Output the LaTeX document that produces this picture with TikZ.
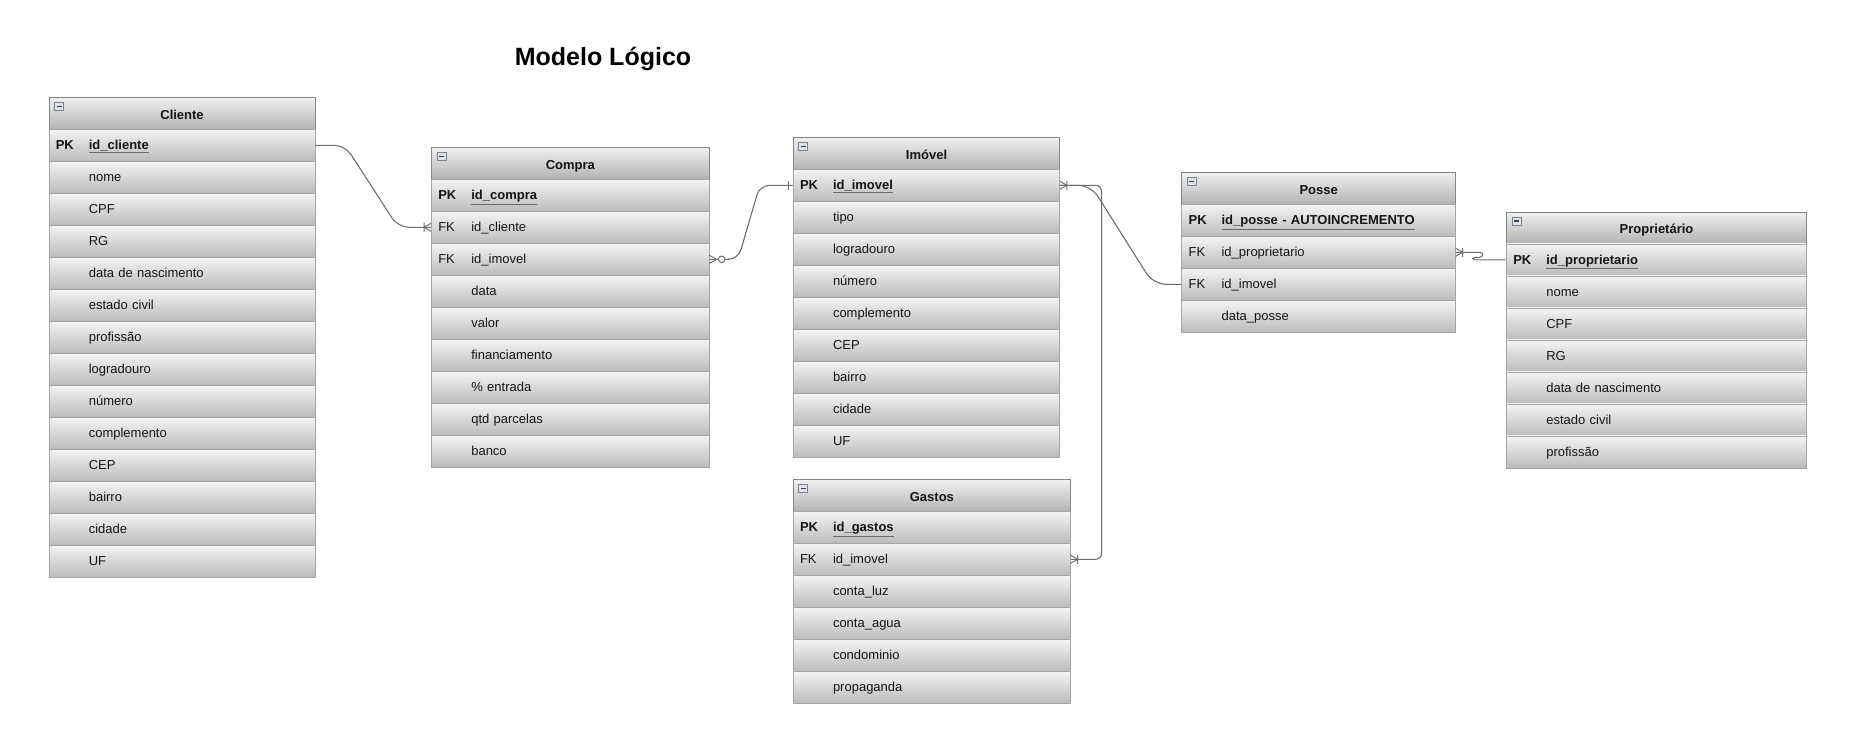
\documentclass[tikz,border=0pt]{standalone}
\usepackage{fontspec}
\setmainfont{Liberation Sans}
\usetikzlibrary{calc}
\definecolor{hdrtop}{HTML}{F0F0F0}
\definecolor{hdrbot}{HTML}{B2B2B2}
\definecolor{rowtop}{HTML}{F4F4F4}
\definecolor{rowbot}{HTML}{BBBBBB}
\definecolor{hdrline}{HTML}{858585}
\definecolor{rowline}{HTML}{A6A6A6}
\definecolor{linec}{HTML}{6E6E6E}
\definecolor{iconfill}{HTML}{DDE2EA}
\definecolor{iconline}{HTML}{7A8492}
\definecolor{ulgray}{HTML}{6A6A6A}
\definecolor{txt}{HTML}{151515}
\newcommand\pkname[1]{{\color{ulgray}\underline{\color{txt}\textbf{#1}}}}
\newcommand\entity[6]{%
  \pgfmathsetmacro\entw{#4-14}%
  \node[hdr, minimum width=#4pt] (#1-h) at (#2,#3) {#5};
  \node[icon] (#1-i) at ($(#1-h.north west)+(10.5,9.5)$) {};
  \foreach \k/\t [count=\i] in {#6} {
    \node[row, minimum width=#4pt, text width=\entw pt] (#1-\i) at (#2,#3+\i*32) {\makebox[33pt][l]{\k}\t};
  }
}
\begin{document}
\begin{tikzpicture}[x=1pt,y=-1pt,
  font=\fontsize{13}{15}\selectfont,
  hdr/.style={draw=hdrline, line width=1.1pt, top color=hdrtop, bottom color=hdrbot,
    minimum height=32pt, inner sep=0pt, anchor=north west, text=txt,
    text height=14pt, text depth=2.6pt,
    font=\fontsize{13}{15}\selectfont\bfseries},
  row/.style={draw=rowline, line width=0.6pt, top color=rowtop, bottom color=rowbot,
    minimum height=32pt, inner xsep=7pt, inner ysep=0pt, anchor=north west,
    text height=11.6pt, text depth=3pt,
    align=left, text=txt},
  icon/.style={draw=iconline, fill=iconfill, minimum width=9pt, minimum height=8pt,
    inner sep=0pt, line width=0.6pt,
    path picture={\draw[line width=1.1pt, black!75]
      ([xshift=2pt]path picture bounding box.west) --
      ([xshift=-2pt]path picture bounding box.east);}},
  conn/.style={draw=linec, line width=1.1pt},
  marker/.style={draw=linec, line width=1pt},
  crowin/.pic={\draw[marker] (-7,0) -- (0,-4) (-7,0) -- (0,4) (-7,-4.5) -- (-7,4.5);},
  crowout/.pic={\draw[marker] (7,0) -- (0,-4) (7,0) -- (0,4) (7,-4.5) -- (7,4.5);},
  zeromany/.pic={\draw[marker] (0,-4) -- (7.5,0) -- (0,4);
    \draw[marker, fill=white] (12.5,0) circle (3.3pt);},
  onebar/.pic={\draw[marker] (-4,-4.5) -- (-4,4.5);}
]
\fill[white] (0,0) rectangle (1865,729);
\useasboundingbox (0,0) rectangle (1865,729);

\node[font=\fontsize{25}{30}\selectfont\bfseries, anchor=base, text=black] (title) at (603,65.7) {Modelo Lógico};

\entity{cli}{48.5}{97}{266}{Cliente}{\textbf{PK}/\pkname{id\_cliente}, /nome, /CPF, /RG, /data de nascimento, /estado civil, /profissão, /logradouro, /número, /complemento, /CEP, /bairro, /cidade, /UF}

\entity{com}{431}{147}{277.6}{Compra}{\textbf{PK}/\pkname{id\_compra}, FK/id\_cliente, FK/id\_imovel, /data, /valor, /financiamento, /\% entrada, /qtd parcelas, /banco}

\entity{imo}{792.7}{137}{266.6}{Imóvel}{\textbf{PK}/\pkname{id\_imovel}, /tipo, /logradouro, /número, /complemento, /CEP, /bairro, /cidade, /UF}

\entity{gas}{792.7}{479}{277.3}{Gastos}{\textbf{PK}/\pkname{id\_gastos}, FK/id\_imovel, /conta\_luz, /conta\_agua, /condominio, /propaganda}

\entity{pos}{1181.3}{172}{273.7}{Posse}{\textbf{PK}/\pkname{id\_posse - AUTOINCREMENTO}, FK/id\_proprietario, FK/id\_imovel, /data\_posse}

\entity{pro}{1506}{211.5}{300}{Proprietário}{\textbf{PK}/\pkname{id\_proprietario}, /nome, /CPF, /RG, /data de nascimento, /estado civil, /profissão}

% connectors
\draw[conn, rounded corners=11pt] (cli-1.east) -- ++(30,0) -- ($(com-2.west)+(-33,0)$) -- (com-2.west);
\pic at (com-2.west) {crowin};

\draw[conn, rounded corners=10pt] (com-3.east) -- ++(29,0) -- ($(imo-1.west)+(-33,0)$) -- (imo-1.west);
\pic at (com-3.east) {zeromany};
\pic at (imo-1.west) {onebar};

\coordinate (vx) at ($(gas-2.east)+(31,0)$);
\draw[conn, rounded corners=6pt] (imo-1.east) -- (vx |- imo-1.east) -- (vx) -- (gas-2.east);
\draw[conn, rounded corners=13pt] (imo-1.east) -- ++(31,0) -- ($(pos-3.west)+(-28,0)$) -- (pos-3.west);
\pic at (imo-1.east) {crowout};
\pic at (gas-2.east) {crowout};

\draw[conn] (pos-2.east) -- ++(24,0) .. controls +(4,0) and +(4,0) .. ++(0,5) -- ++(-5,0) .. controls +(-2.5,0) and +(-2.5,0) .. ++(0,2.5) -- (pro-1.west);
\pic at (pos-2.east) {crowout};
\end{tikzpicture}
\end{document}
